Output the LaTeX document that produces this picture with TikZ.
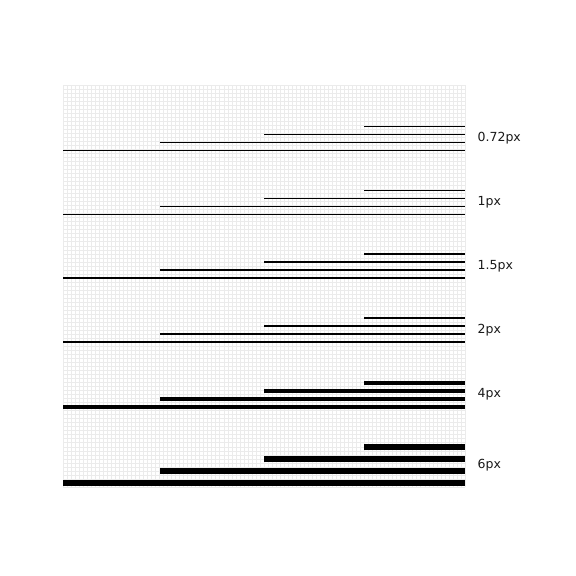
\documentclass[tikz,border=0pt]{standalone}
\usepackage{fontspec}
\setmainfont{DejaVu Sans}
\begin{document}
\begin{tikzpicture}[x=1pt,y=-1pt,
  gridline/.style={draw=black!8,line width=0.6pt},
  strokeline/.style={draw=black,line cap=butt},
  lbl/.style={anchor=west,inner sep=0pt,font=\fontsize{12.5}{14}\selectfont,text=black!90}]
\useasboundingbox[fill=white] (0,0) rectangle (576,576);
% grid
\foreach \i in {0,...,100}{
  \draw[gridline] ({63+\i*4.02},85) -- ({63+\i*4.02},487);
  \draw[gridline] (63,{85+\i*4.02}) -- (465,{85+\i*4.02});
}
% bands: top y, spacing, width, label
\foreach \t/\s/\w/\l [count=\k] in {126/8/0.72/0.72px,190/8/1/1px,254/8/1.5/1.5px,318/8/2/2px,382.7/8/4/4px,446.7/12/6/6px}{
  \draw[strokeline,line width=\w pt] (364,\t) -- (465,\t);
  \draw[strokeline,line width=\w pt] (264,{\t+\s}) -- (465,{\t+\s});
  \draw[strokeline,line width=\w pt] (160,{\t+2*\s}) -- (465,{\t+2*\s});
  \draw[strokeline,line width=\w pt] (63,{\t+3*\s}) -- (465,{\t+3*\s});
  \node[lbl] (label\k) at (477.5,{\t+1.5*\s}) {\l};
}
\end{tikzpicture}
\end{document}
